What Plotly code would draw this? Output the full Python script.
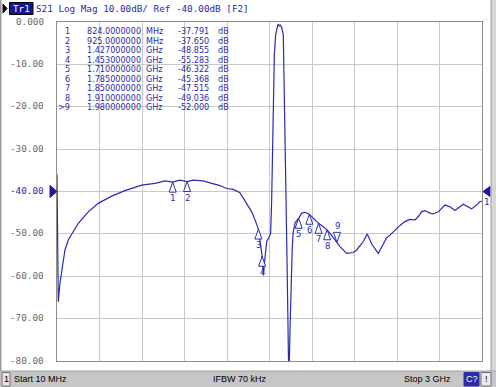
import plotly.graph_objects as go

# ---------------- data ----------------
freq_mhz = [10, 14, 19, 31, 43, 66, 90, 125, 160, 230, 300, 395, 488, 606, 700, 770,
            824, 875, 925, 969, 1039, 1080, 1110, 1157, 1204, 1250, 1297, 1345, 1380,
            1403, 1415, 1427, 1440, 1453, 1461, 1473, 1485, 1503, 1513, 1520, 1527,
            1531, 1539, 1548, 1555, 1562, 1568, 1574, 1580, 1591, 1602, 1606, 1613,
            1620, 1627, 1634, 1641, 1649, 1656, 1665, 1672, 1684, 1700, 1710, 1731,
            1755, 1785, 1802, 1837, 1850, 1884, 1910, 1931, 1966, 1980, 2001, 2048,
            2094, 2118, 2165, 2188, 2193, 2224, 2270, 2306, 2329, 2353, 2388, 2423,
            2458, 2493, 2529, 2552, 2575, 2599, 2634, 2657, 2692, 2740, 2775, 2810,
            2868, 2903, 2927, 2962, 2986, 3000]
s21_db = [-36.0, -64.0, -66.0, -61.6, -58.5, -53.8, -51.4, -49.5, -47.5, -44.8, -42.8,
          -41.1, -39.8, -38.5, -38.1, -37.5, -37.79, -37.3, -37.65, -37.3, -37.5, -37.9,
          -38.2, -38.6, -39.3, -39.5, -40.3, -42.8, -44.8, -46.7, -47.6, -48.86, -52.0,
          -55.28, -59.8, -55.5, -51.8, -50.7, -49.9, -42.4, -29.8, -18.0, -7.8, -3.1,
          -1.5, -0.8, -0.6, -0.9, -0.7, -1.3, -3.1, -10.1, -21.9, -37.7, -53.4, -69.0,
          -86.0, -73.0, -61.3, -53.4, -49.5, -47.5, -46.7, -46.32, -45.1, -44.9, -45.37,
          -45.9, -47.1, -47.52, -48.3, -49.04, -49.9, -51.4, -52.0, -53.0, -54.6, -54.4,
          -53.8, -51.8, -50.3, -50.0, -52.4, -54.6, -52.4, -50.9, -50.3, -49.1, -48.0,
          -47.1, -46.6, -46.7, -45.9, -44.8, -44.5, -45.1, -45.3, -44.8, -43.2, -43.6,
          -44.5, -43.0, -43.6, -44.1, -43.2, -42.4, -42.3]

marker_no = [1, 2, 3, 4, 5, 6, 7, 8, 9]
marker_freq_mhz = [824, 925, 1427, 1453, 1710, 1785, 1850, 1910, 1980]
marker_db = [-37.791, -37.650, -48.855, -55.283, -46.322, -45.368, -47.515, -49.036, -52.000]
marker_freq_text = ["824.0000000", "925.0000000", "1.427000000", "1.453000000",
                    "1.710000000", "1.785000000", "1.850000000", "1.910000000", "1.980000000"]
marker_unit = ["MHz", "MHz", "GHz", "GHz", "GHz", "GHz", "GHz", "GHz", "GHz"]
active_marker = 9

y_ticks = [0, -10, -20, -30, -40, -50, -60, -70, -80]
y_tick_text = ["0.000", "-10.00", "-20.00", "-30.00", "-40.00", "-50.00", "-60.00", "-70.00", "-80.00"]
ref_level = -40
x_start, x_stop, x_div = 10, 3000, 10

header_text = "S21 Log Mag 10.00dB/ Ref -40.00dB [F2]"
status_start = "Start 10 MHz"
status_ifbw = "IFBW 70 kHz"
status_stop = "Stop 3 GHz"

# ---------------- styling ----------------
W, H = 496, 387
L, R, T, B = 57, 482, 22, 361
TRACE = "#2a2ab4"
BLUE_TXT = "#2b2ba8"
GRID = "#c8c8c8"
BORDER = "#8c8c8c"
GRAY_TXT = "#6a6a6a"
MONO = "DejaVu Sans Mono"
SANS = "Liberation Sans"
TABLE_FONT = "DejaVu Sans"


def xp(px):
    return (px - L) / (R - L)


def yp(py):
    return (B - py) / (B - T)


db_per_px = (y_ticks[0] - y_ticks[-1]) / (B - T)
x_grid = [x_start + i * (x_stop - x_start) / x_div for i in range(x_div + 1)]

fig = go.Figure()
fig.add_trace(go.Scatter(x=freq_mhz, y=s21_db, mode="lines",
                         line=dict(color=TRACE, width=1.2), hoverinfo="skip"))

# marker position indicators under the graticule
fig.add_trace(go.Scatter(
    x=marker_freq_mhz,
    y=[y_ticks[-1] - 5.7 * db_per_px] * len(marker_freq_mhz),
    mode="markers", cliponaxis=False, hoverinfo="skip",
    marker=dict(symbol=["triangle-up" if n == active_marker else "triangle-up-open" for n in marker_no],
                size=10, color=TRACE, line=dict(color=TRACE, width=1))))

shapes = []
annotations = []

# markers on trace
for n, f, v in zip(marker_no, marker_freq_mhz, marker_db):
    if n == active_marker:
        path = "M0,0L-3.5,10L3.5,10Z"
        ys = 16
    else:
        path = "M0,0L-3.5,-10L3.5,-10Z"
        ys = -16
    shapes.append(dict(type="path", xref="x", yref="y", xsizemode="pixel", ysizemode="pixel",
                       xanchor=f, yanchor=v, path=path, fillcolor="white",
                       line=dict(color=TRACE, width=1)))
    annotations.append(dict(x=f, y=v, xref="x", yref="y", text=str(n), showarrow=False,
                            xanchor="center", yanchor="middle", yshift=ys,
                            font=dict(family=MONO, size=9, color=TRACE)))

# y tick labels
for v, t in zip(y_ticks, y_tick_text):
    annotations.append(dict(x=xp(46), y=v, xref="paper", yref="y", text=t, showarrow=False,
                            xanchor="right", yanchor="middle", yshift=1,
                            font=dict(family=MONO, size=9.3,
                                      color=BLUE_TXT if v == ref_level else GRAY_TXT)))

# reference level arrows
shapes.append(dict(type="path", xref="paper", yref="y", xsizemode="pixel", ysizemode="pixel",
                   xanchor=0, yanchor=ref_level, path="M0,0L-7,6L-7,-6Z",
                   fillcolor="#1a1a9a", line=dict(color="#1a1a9a", width=1)))
shapes.append(dict(type="path", xref="paper", yref="y", xsizemode="pixel", ysizemode="pixel",
                   xanchor=1, yanchor=ref_level, path="M1,0L8,5L8,-5Z",
                   fillcolor="#1a1a9a", line=dict(color="#1a1a9a", width=1)))
annotations.append(dict(x=xp(486), y=yp(202), xref="paper", yref="paper", text="1",
                        showarrow=False, xanchor="center", yanchor="middle",
                        font=dict(family=MONO, size=9, color=TRACE)))

# marker table (column by column)
for i, (n, ft, u, v) in enumerate(zip(marker_no, marker_freq_text, marker_unit, marker_db)):
    row_y = yp(31 + i * 9.54)
    label = (">" if n == active_marker else "") + str(n)
    cols = [(71, label, "right"), (113.5, ft, "center"), (154, u, "center"),
            (193, f"{v:.3f}", "center"), (223.5, "dB", "center")]
    for cx, txt, anc in cols:
        annotations.append(dict(x=xp(cx), y=row_y, xref="paper", yref="paper",
                                text=txt, showarrow=False, xanchor=anc, yanchor="middle",
                                borderpad=0,
                                font=dict(family=TABLE_FONT, size=8.1, color=BLUE_TXT)))

# header
shapes.append(dict(type="path", xref="paper", yref="paper",
                   path=f"M{xp(3)},{yp(4)}L{xp(7)},{yp(8.5)}L{xp(3)},{yp(13)}Z",
                   fillcolor="black", line=dict(color="black", width=1)))
shapes.append(dict(type="rect", xref="paper", yref="paper", x0=xp(9.5), x1=xp(33),
                   y0=yp(14.5), y1=yp(2.5), fillcolor="#161690", line=dict(color="black", width=1)))
annotations.append(dict(x=xp(21.3), y=yp(8.7), xref="paper", yref="paper", text="Tr1",
                        showarrow=False, xanchor="center", yanchor="middle", borderpad=0,
                        font=dict(family=MONO, size=9.3, color="white")))
annotations.append(dict(x=xp(35), y=yp(8.7), xref="paper", yref="paper", text=header_text,
                        showarrow=False, xanchor="left", yanchor="middle", borderpad=0,
                        font=dict(family=MONO, size=9.3, color=BLUE_TXT)))

# frame
shapes.append(dict(type="rect", xref="paper", yref="paper", x0=xp(0), x1=xp(1.5),
                   y0=yp(H), y1=yp(0), fillcolor="#9a9a9a", line=dict(width=0), layer="below"))
shapes.append(dict(type="rect", xref="paper", yref="paper", x0=xp(491), x1=xp(W),
                   y0=yp(H), y1=yp(0), fillcolor="#d6d6d6", line=dict(width=0)))
shapes.append(dict(type="line", xref="paper", yref="paper", x0=xp(491), x1=xp(491),
                   y0=yp(H), y1=yp(0), line=dict(color="#9a9a9a", width=1)))

# status bar
shapes.append(dict(type="rect", xref="paper", yref="paper", x0=xp(0), x1=xp(W),
                   y0=yp(H), y1=yp(371), fillcolor="#c6c6c6", line=dict(width=0)))
shapes.append(dict(type="line", xref="paper", yref="paper", x0=xp(0), x1=xp(W),
                   y0=yp(371), y1=yp(371), line=dict(color="#a0a0a0", width=1)))
shapes.append(dict(type="rect", xref="paper", yref="paper", x0=xp(2), x1=xp(10),
                   y0=yp(386), y1=yp(372.5), fillcolor="#e6e6e6", line=dict(color="#707070", width=1)))
shapes.append(dict(type="rect", xref="paper", yref="paper", x0=xp(464), x1=xp(479),
                   y0=yp(386), y1=yp(372.5), fillcolor="#2c2ca4", line=dict(color="#2c2ca4", width=1)))
shapes.append(dict(type="rect", xref="paper", yref="paper", x0=xp(481), x1=xp(491),
                   y0=yp(386), y1=yp(372.5), fillcolor="#ececec", line=dict(color="#707070", width=1)))
for x, t, anchor, col in [(6, "1", "center", "black"), (13, status_start, "left", "black"),
                          (212, status_ifbw, "left", "black"), (452, status_stop, "right", "black"),
                          (471.5, "C?", "center", "white"), (486, "!", "center", "black")]:
    annotations.append(dict(x=xp(x), y=yp(379.3), xref="paper", yref="paper", text=t,
                            showarrow=False, xanchor=anchor, yanchor="middle", borderpad=0,
                            font=dict(family=SANS, size=9, color=col)))

fig.update_layout(
    width=W, height=H, margin=dict(l=L, r=W - R, t=T, b=H - B),
    paper_bgcolor="white", plot_bgcolor="white", showlegend=False,
    shapes=shapes, annotations=annotations,
    xaxis=dict(range=[x_start, x_stop], tickvals=x_grid, showticklabels=False, ticks="",
               showgrid=True, gridcolor=GRID, gridwidth=1, zeroline=False,
               showline=True, linecolor=BORDER, linewidth=1, mirror=True, fixedrange=True),
    yaxis=dict(range=[y_ticks[-1], y_ticks[0]], tickvals=y_ticks, showticklabels=False, ticks="",
               showgrid=True, gridcolor=GRID, gridwidth=1, zeroline=False,
               showline=True, linecolor=BORDER, linewidth=1, mirror=True, fixedrange=True),
)

fig.write_html("out.html")
